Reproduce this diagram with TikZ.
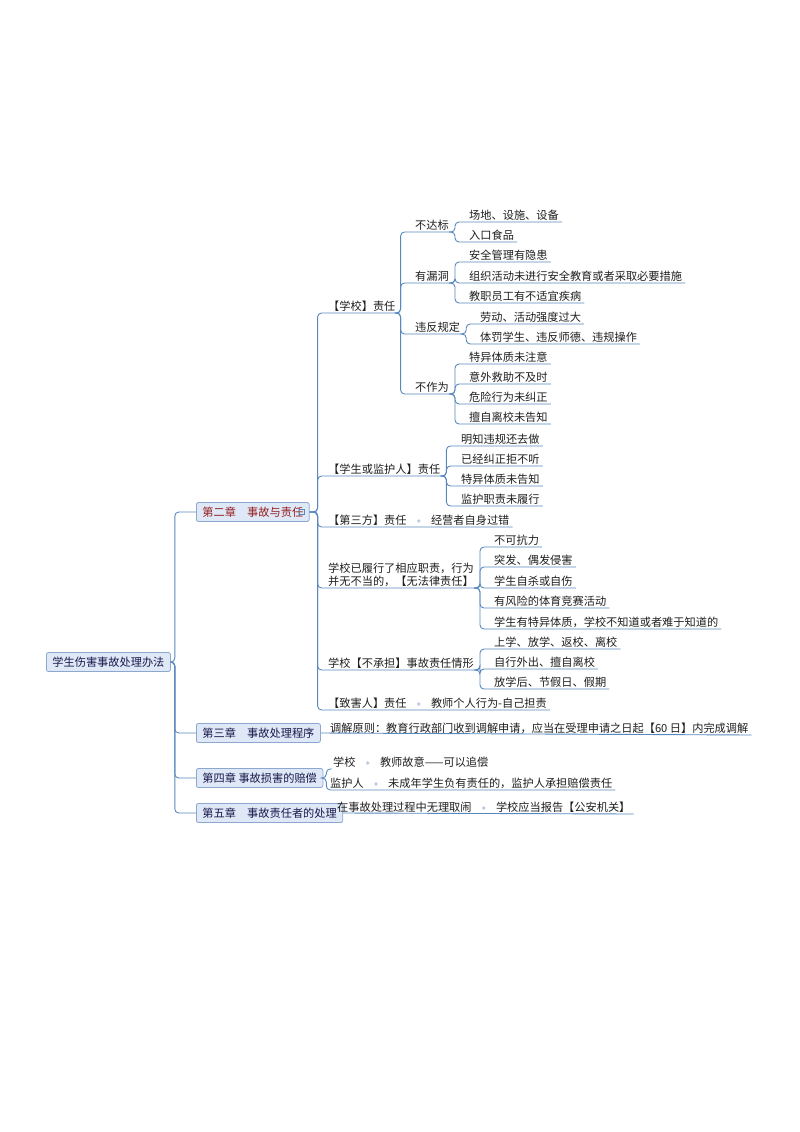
\documentclass[tikz,border=0pt]{standalone}
\usepackage{fontspec}
\newfontfamily\cjk{Noto Sans CJK SC}
\definecolor{lnc}{RGB}{88,136,190}
\definecolor{boxf}{RGB}{222,232,246}
\definecolor{boxd}{RGB}{140,168,206}
\definecolor{redt}{RGB}{150,30,30}
\definecolor{txt}{RGB}{30,30,30}
\begin{document}
\begin{tikzpicture}[x=1pt,y=-1pt,
  t/.style={anchor=south west,inner xsep=3pt,inner ysep=1.5pt,font=\cjk\fontsize{11.2}{13}\selectfont,text=txt},
  bx/.style={anchor=west,draw=boxd,fill=boxf,rounded corners=2pt,inner xsep=6pt,minimum height=19pt,font=\cjk\fontsize{11.2}{13}\selectfont,text=txt!80!blue,line width=0.8pt},
  ln/.style={draw=lnc,line width=0.9pt,rounded corners=4pt},
  dt/.style={circle,fill=boxd!60,inner sep=1.3pt}]
\useasboundingbox (0,0) rectangle (800,1132);
% root and chapters
\node[bx] (root) at (46,662) {学生伤害事故处理办法};
\node[bx,text=redt] (c2) at (196,512) {第二章\quad 事故与责任\hspace{9pt}};
\draw[lnc,line width=0.6pt] ([xshift=-10pt]c2.east) ++(0,-2.5) rectangle ++(5,5);
\node[bx] (c3) at (196,733) {第三章\quad 事故处理程序};
\node[bx] (c4) at (196,778) {第四章 事故损害的赔偿};
\node[bx] (c5) at (196,813) {第五章\quad 事故责任者的处理};
\foreach \c in {c2,c3,c4,c5}{\draw[ln] (root.east) -- ++(4,0) |- (\c.west);}
% chapter 2 children
\node[t] (a1) at (325,313) {【学校】责任};
\node[t] (a2) at (325,476) {【学生或监护人】责任};
\node[t] (a3) at (325,527) {【第三方】责任};
\node[t] (a3b) at ([xshift=18pt]a3.south east) {经营者自身过错};
\node[dt] (a3d) at ([xshift=9pt,yshift=6pt]a3.south east) {};
\node[t,align=left] (a4) at (325,588) {学校已履行了相应职责，行为\\并无不当的，【无法律责任】};
\node[t] (a5) at (325,670) {学校【不承担】事故责任情形};
\node[t] (a6) at (325,710) {【致害人】责任};
\node[dt] (a6d) at ([xshift=9pt,yshift=6pt]a6.south east) {};
\node[t] (a6b) at ([xshift=18pt]a6.south east) {教师个人行为-自己担责};
\foreach \n in {a1,a2,a3b,a4,a5,a6b}{\draw[ln] (c2.east) -- ++(8,0) |- (\n.south east);}
% school branch
\node[t] (b1) at (412,232) {不达标};
\node[t] (b2) at (412,283) {有漏洞};
\node[t] (b3) at (412,334) {违反规定};
\node[t] (b4) at (412,394) {不作为};
\foreach \n in {b1,b2,b3,b4}{\draw[ln] (a1.south east) -- ++(2,0) |- (\n.south east);}
\node[t] (l11) at (466,222) {场地、设施、设备};
\node[t] (l12) at (466,242) {入口食品};
\foreach \n in {l11,l12}{\draw[ln] (b1.south east) -- ++(3,0) |- (\n.south east);}
\node[t] (l21) at (466,262) {安全管理有隐患};
\node[t] (l22) at (466,283) {组织活动未进行安全教育或者采取必要措施};
\node[t] (l23) at (466,303) {教职员工有不适宜疾病};
\foreach \n in {l21,l22,l23}{\draw[ln] (b2.south east) -- ++(3,0) |- (\n.south east);}
\node[t] (l31) at (477,324) {劳动、活动强度过大};
\node[t] (l32) at (477,344) {体罚学生、违反师德、违规操作};
\foreach \n in {l31,l32}{\draw[ln] (b3.south east) -- ++(3,0) |- (\n.south east);}
\node[t] (l41) at (466,364) {特异体质未注意};
\node[t] (l42) at (466,384) {意外救助不及时};
\node[t] (l43) at (466,404) {危险行为未纠正};
\node[t] (l44) at (466,424) {擅自离校未告知};
\foreach \n in {l41,l42,l43,l44}{\draw[ln] (b4.south east) -- ++(3,0) |- (\n.south east);}
% student branch
\node[t] (m1) at (458,446) {明知违规还去做};
\node[t] (m2) at (458,466) {已经纠正拒不听};
\node[t] (m3) at (458,486) {特异体质未告知};
\node[t] (m4) at (458,506) {监护职责未履行};
\foreach \n in {m1,m2,m3,m4}{\draw[ln] (a2.south east) -- ++(3,0) |- (\n.south east);}
% no legal liability
\node[t] (n1) at (491,547) {不可抗力};
\node[t] (n2) at (491,567) {突发、偶发侵害};
\node[t] (n3) at (491,588) {学生自杀或自伤};
\node[t] (n4) at (491,608) {有风险的体育竞赛活动};
\node[t] (n5) at (491,629) {学生有特异体质，学校不知道或者难于知道的};
\foreach \n in {n1,n2,n3,n4,n5}{\draw[ln] (a4.south east) -- ++(3,0) |- (\n.south east);}
% not responsible
\node[t] (p1) at (491,649) {上学、放学、返校、离校};
\node[t] (p2) at (491,669) {自行外出、擅自离校};
\node[t] (p3) at (491,689) {放学后、节假日、假期};
\foreach \n in {p1,p2,p3}{\draw[ln] (a5.south east) -- ++(3,0) |- (\n.south east);}
% chapter 3
\node[t] (q1) at (327,735) {调解原则：教育行政部门收到调解申请，应当在受理申请之日起【60 日】内完成调解};
\draw[ln] (c3.east) -- (q1.south east);
% chapter 4
\node[t] (r1) at (330,769) {学校};
\node[dt] (r1d) at ([xshift=9pt,yshift=6pt]r1.south east) {};
\node[t] (r1b) at ([xshift=18pt]r1.south east) {教师故意——可以追偿};
\node[t] (r2) at (327,790) {监护人};
\node[dt] (r2d) at ([xshift=9pt,yshift=6pt]r2.south east) {};
\node[t] (r2b) at ([xshift=18pt]r2.south east) {未成年学生负有责任的，监护人承担赔偿责任};
\draw[ln] (c4.east) -- ++(3,0) |- (r2b.south east);
\draw[ln] (c4.east) -- ++(3,0) |- (r1.south west);
% chapter 5
\node[t] (s1) at (334,814) {在事故处理过程中无理取闹};
\node[dt] (s1d) at ([xshift=9pt,yshift=6pt]s1.south east) {};
\node[t] (s1b) at ([xshift=18pt]s1.south east) {学校应当报告【公安机关】};
\draw[ln] (c5.east) -- (s1b.south east);
\end{tikzpicture}
\end{document}
